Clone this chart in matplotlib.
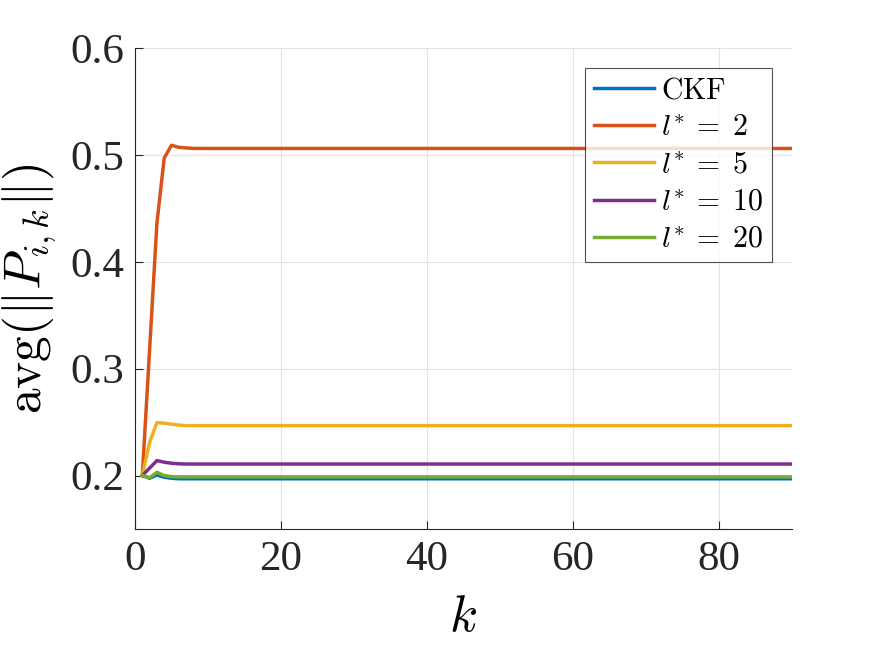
import numpy as np
import matplotlib
matplotlib.use('Agg')
import matplotlib.pyplot as plt

plt.rcParams['font.family'] = 'serif'
plt.rcParams['font.serif'] = ['Liberation Serif', 'DejaVu Serif']
plt.rcParams['mathtext.fontset'] = 'cm'

''' time steps '''
k = np.arange(1, 92)

''' values read off the figure: first few steps, then the steady level '''
ckf = [0.200, 0.1975, 0.2005, 0.1985, 0.1975, 0.197] + [0.197] * 85
l2 = [0.200, 0.318, 0.436, 0.497, 0.509, 0.507, 0.5065] + [0.506] * 84
l5 = [0.200, 0.231, 0.2495, 0.249, 0.248, 0.2472] + [0.2467] * 85
l10 = [0.200, 0.207, 0.214, 0.2125, 0.2115, 0.211] + [0.2108] * 85
l20 = [0.200, 0.198, 0.203, 0.200, 0.199, 0.1988] + [0.1988] * 85

series = [ckf, l2, l5, l10, l20]
labels = [r'$\mathrm{CKF}$', r'$l^{*}\:=\;2$', r'$l^{*}\:=\;5$',
          r'$l^{*}\:=\;10$', r'$l^{*}\:=\;20$']
colors = ['#0072BD', '#D95319', '#EDB120', '#7E2F8E', '#77AC30']

fig = plt.figure(figsize=(8.75, 6.57), dpi=100)
ax = fig.add_axes([0.1543, 0.1948, 0.7508, 0.7322])

for y, lab, c in zip(series, labels, colors):
    ax.plot(k, y, color=c, linewidth=2.5, label=lab)

ax.set_xlim(0, 90)
ax.set_ylim(0.15, 0.6)
ax.set_xticks([0, 20, 40, 60, 80])
ax.set_yticks([0.2, 0.3, 0.4, 0.5, 0.6])
ax.set_yticklabels(['0.2', '0.3', '0.4', '0.5', '0.6'])
ax.tick_params(direction='in', length=6, width=0.8, labelsize=31, colors='#262626', pad=8)
ax.grid(True, color='#e3e3e3', linewidth=0.8)
ax.set_axisbelow(True)
for s in ['top', 'right']:
    ax.spines[s].set_visible(False)
for s in ['left', 'bottom']:
    ax.spines[s].set_color('#262626')
    ax.spines[s].set_linewidth(0.8)

ax.set_xlabel(r'$k$', fontsize=37, labelpad=12)
ax.set_ylabel(r'$\mathrm{avg}(\|P_{i,k}\|)$', fontsize=37, labelpad=8)

leg = ax.legend(loc='upper right', bbox_to_anchor=(0.97, 0.958), fontsize=21.5,
                frameon=True, fancybox=False, handlelength=2.0, labelspacing=0.35,
                borderpad=0.3, handletextpad=0.25, borderaxespad=0)
leg.get_frame().set_edgecolor('#262626')
leg.get_frame().set_linewidth(0.8)

fig.savefig('out.png', dpi=100)
